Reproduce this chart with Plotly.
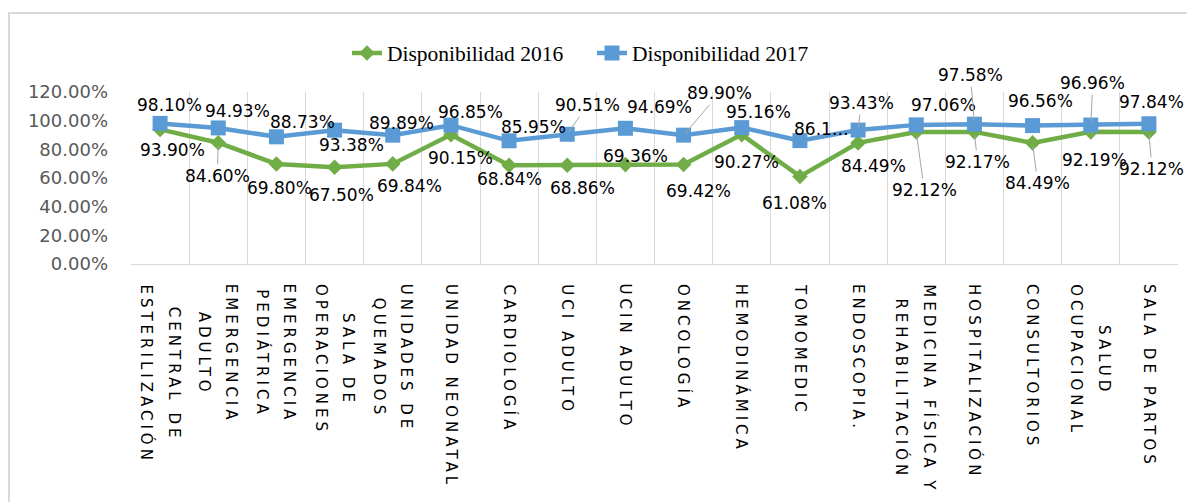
import plotly.graph_objects as go

# Services (x categories) and how each name wraps under the axis
categories = [
    "CENTRAL DE ESTERILIZACIÓN", "EMERGENCIA ADULTO", "EMERGENCIA PEDIÁTRICA",
    "SALA DE OPERACIONES", "UNIDADES DE QUEMADOS", "UNIDAD NEONATAL",
    "CARDIOLOGÍA", "UCI ADULTO", "UCIN ADULTO", "ONCOLOGÍA", "HEMODINÁMICA",
    "TOMOMEDIC", "ENDOSCOPIA.", "MEDICINA FÍSICA Y REHABILITACIÓN",
    "HOSPITALIZACIÓN", "CONSULTORIOS", "SALUD OCUPACIONAL", "SALA DE PARTOS",
]
tick_lines = [
    ["CENTRAL DE", "ESTERILIZACIÓN"], ["EMERGENCIA", "ADULTO"],
    ["EMERGENCIA", "PEDIÁTRICA"], ["SALA DE", "OPERACIONES"],
    ["UNIDADES DE", "QUEMADOS"], ["UNIDAD NEONATAL"], ["CARDIOLOGÍA"],
    ["UCI ADULTO"], ["UCIN ADULTO"], ["ONCOLOGÍA"], ["HEMODINÁMICA"],
    ["TOMOMEDIC"], ["ENDOSCOPIA."], ["MEDICINA FÍSICA Y", "REHABILITACIÓN"],
    ["HOSPITALIZACIÓN"], ["CONSULTORIOS"], ["SALUD", "OCUPACIONAL"],
    ["SALA DE PARTOS"],
]

# Availability (%) per service
disp_2016 = [93.90, 84.60, 69.80, 67.50, 69.84, 90.15, 68.84, 68.86, 69.36,
             69.42, 90.27, 61.08, 84.49, 92.12, 92.17, 84.49, 92.19, 92.12]
disp_2017 = [98.10, 94.93, 88.73, 93.38, 89.89, 96.85, 85.95, 90.51, 94.69,
             89.90, 95.16, 86.10, 93.43, 97.06, 97.58, 96.56, 96.96, 97.84]

y_ticks = [0, 20, 40, 60, 80, 100, 120]

labels_2016 = [f"{v:.2f}%" for v in disp_2016]
labels_2017 = [f"{v:.2f}%" for v in disp_2017]
labels_2017[11] = "86.1…"  # label box too narrow, text truncated

# Data-label placement (pixel offsets from the point) and leader-line flags
off_2016 = [(12, 21), (-1, 33), (3, 24), (7, 28), (17, 22), (10, 23), (0, 14),
            (15, 23), (10, -9), (15, 26), (5, 27), (-5, 27), (15, 23),
            (8, 58), (3, 30), (5, 40), (4, 28), (3, 37)]
lead_2016 = [0, 1, 0, 0, 0, 0, 0, 0, 0, 0, 0, 0, 0, 1, 1, 1, 0, 1]
off_2017 = [(9, -18), (19, -17), (26, -15), (17, 15), (9, -12), (20, -13),
            (24, -14), (20, -29), (34, -21), (36, -42), (17, -16), (22, -12),
            (3, -27), (27, -20), (-4, -49), (8, -25), (2, -42), (3, -22)]
lead_2017 = [0, 0, 0, 0, 0, 0, 0, 1, 0, 1, 0, 0, 1, 0, 1, 0, 1, 0]

GREEN = "#70AD47"
BLUE = "#5B9BD5"
GRID = "#D9D9D9"
LEADER = "#A6A6A6"

W, H = 1187, 502
ML, MR, MT, MB = 131, 9, 92, 238
PW, PH = W - ML - MR, H - MT - MB


def px_to_paper(px, py):
    return (px - ML) / PW, (H - MB - py) / PH


fig = go.Figure()
fig.add_trace(go.Scatter(
    x=categories, y=disp_2016, name="Disponibilidad 2016", mode="lines+markers",
    line=dict(color=GREEN, width=4.5),
    marker=dict(symbol="diamond", size=12, color=GREEN),
))
fig.add_trace(go.Scatter(
    x=categories, y=disp_2017, name="Disponibilidad 2017", mode="lines+markers",
    line=dict(color=BLUE, width=4.5),
    marker=dict(symbol="square", size=15, color=BLUE),
))

annotations = []
label_font = dict(family="DejaVu Sans", size=17, color="#000000")
for vals, texts, offs, leads in ((disp_2016, labels_2016, off_2016, lead_2016),
                                 (disp_2017, labels_2017, off_2017, lead_2017)):
    for cat, v, t, (dx, dy), ld in zip(categories, vals, texts, offs, leads):
        annotations.append(dict(
            x=cat, y=v, xref="x", yref="y", text=t, font=label_font,
            showarrow=True, ax=dx, ay=dy, arrowhead=0, arrowwidth=1,
            standoff=3, arrowcolor=LEADER if ld else "rgba(0,0,0,0)",
        ))

# Rotated, letter-spaced category labels under the axis
for cat, lines in zip(categories, tick_lines):
    txt = "<br>".join(
        f'<span style="font-size:15px;letter-spacing:4px">{ln}</span>' for ln in lines
    )
    annotations.append(dict(
        x=cat, y=0, xref="x", yref="paper", yanchor="top", yshift=-18,
        text=txt, textangle=90, align="center", showarrow=False,
        font=dict(family="DejaVu Sans", size=21, color="#000000"),
    ))

# Chart-area frame
x0, y0 = px_to_paper(9, 13)
x1, y1 = px_to_paper(1200, 520)
shapes = [dict(type="rect", xref="paper", yref="paper", x0=x0, y0=y1, x1=x1, y1=y0,
               line=dict(color=GRID, width=2), layer="below")]

lx, ly = px_to_paper(592, 53)

fig.update_layout(
    width=W, height=H,
    margin=dict(l=ML, r=MR, t=MT, b=MB, pad=0),
    paper_bgcolor="white", plot_bgcolor="white",
    showlegend=True,
    legend=dict(
        orientation="h", x=lx, y=ly, xanchor="center", yanchor="middle",
        font=dict(family="Liberation Serif", size=21.5, color="#000000"),
        bgcolor="rgba(0,0,0,0)", entrywidth=200, entrywidthmode="pixels",
    ),
    xaxis=dict(
        type="category", range=[-0.5, len(categories) - 0.5],
        tickson="boundaries", showgrid=True, gridcolor=GRID, gridwidth=1,
        showticklabels=False, ticks="", showline=True, linecolor=GRID, linewidth=1,
        zeroline=False,
    ),
    yaxis=dict(
        range=[0, 120], tickvals=y_ticks, ticktext=[f"{v:.2f}%" for v in y_ticks],
        showgrid=False, zeroline=False, showline=False, ticks="",
        ticklabelstandoff=22,
        tickfont=dict(family="DejaVu Sans", size=18, color="#595959"),
    ),
    annotations=annotations,
    shapes=shapes,
)

fig.write_html("out.html")
